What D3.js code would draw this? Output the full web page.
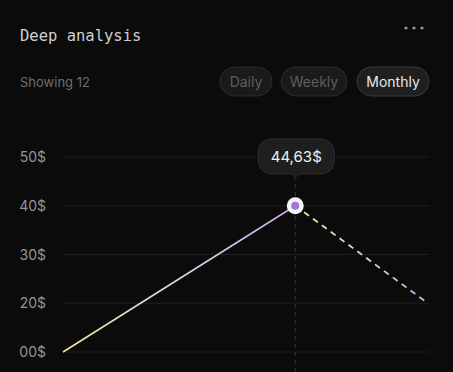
<!DOCTYPE html>
<html>
<head>
<meta charset="utf-8">
<script src="https://cdn.jsdelivr.net/npm/d3@7"></script>
<style>
  html, body { margin: 0; padding: 0; background: #0b0b0b; }
  svg { display: block; }
</style>
</head>
<body>
<div id="chart"></div>
<script>
// 12 months on the x axis, three known points
const months = ['Jan','Feb','Mar','Apr','May','Jun','Jul','Aug','Sep','Oct','Nov','Dec']
const solidSeries = [{ m: 'Jan', v: 0 }, { m: 'Aug', v: 40 }]
const dashedSeries = [{ m: 'Aug', v: 40 }, { m: 'Dec', v: 20 }]
// the axis is evenly spaced by level, not linear
const yTicks = [0, 20, 30, 40, 50]
const yTickLabels = ['00$', '20$', '30$', '40$', '50$']
const periods = ['Daily', 'Weekly', 'Monthly']
const activePeriod = 'Monthly'
const highlight = { m: 'Aug', v: 40, label: '44,63$' }

const W = 453, H = 372
const svg = d3.select('#chart').append('svg').attr('width', W).attr('height', H)
svg.append('rect').attr('width', W).attr('height', H).attr('fill', '#0b0b0b')

// header
svg.append('text').attr('x', 20).attr('y', 41)
  .style('font-family', 'DejaVu Sans Mono, monospace').style('font-size', '15.5px')
  .attr('fill', '#cfcfcf').text('Deep analysis')

const dots = svg.append('g').attr('fill', '#9a9a9a')
;[406, 414, 422].forEach(x => dots.append('circle').attr('cx', x).attr('cy', 28).attr('r', 1.6))

svg.append('text').attr('x', 20).attr('y', 87)
  .style('font-family', 'Inter, sans-serif').style('font-size', '13px')
  .attr('fill', '#6e6e6e').text('Showing 12')

// period pills
const pillX = { Daily: [220, 52], Weekly: [281, 66], Monthly: [357, 72] }
periods.forEach(p => {
  const [x, w] = pillX[p]
  const active = p === activePeriod
  svg.append('rect').attr('x', x).attr('y', 67).attr('width', w).attr('height', 29).attr('rx', 14.5)
    .attr('fill', active ? '#1f1f1f' : '#1a1a1a').attr('stroke', active ? '#3a3a3a' : '#2c2c2c')
  svg.append('text').attr('x', x + w / 2).attr('y', 87).attr('text-anchor', 'middle')
    .style('font-family', 'Inter, sans-serif').style('font-size', '14px')
    .attr('fill', active ? '#e8e8e8' : '#5e5e5e').text(p)
})

// scales
const x = d3.scalePoint().domain(months).range([63, 428])
const y = d3.scalePoint().domain(yTicks).range([352, 157])

// grid + y labels
const grid = svg.append('g')
yTicks.forEach((t, i) => {
  grid.append('line').attr('x1', 63).attr('x2', 429).attr('y1', y(t)).attr('y2', y(t))
    .attr('stroke', '#1f1f1f').attr('stroke-width', 1)
  grid.append('text').attr('x', 46).attr('y', y(t) + 5).attr('text-anchor', 'end')
    .style('font-family', 'Inter, sans-serif').style('font-size', '14px')
    .attr('fill', '#959595').text(yTickLabels[i])
})

// gradients
const defs = svg.append('defs')
function grad(id, x1, x2) {
  const g = defs.append('linearGradient').attr('id', id).attr('gradientUnits', 'userSpaceOnUse')
    .attr('x1', x1).attr('x2', x2).attr('y1', 0).attr('y2', 0)
  g.append('stop').attr('offset', '0%').attr('stop-color', '#efe6a0')
  g.append('stop').attr('offset', '55%').attr('stop-color', '#e2cfe6')
  g.append('stop').attr('offset', '100%').attr('stop-color', '#c9a6ee')
}
grad('g-solid', x('Jan'), x('Aug'))
grad('g-dash', x('Aug'), x('Dec'))

// vertical marker
const hx = x(highlight.m), hy = y(highlight.v)
svg.append('line').attr('x1', hx).attr('x2', hx).attr('y1', 176).attr('y2', H)
  .attr('stroke', '#3a3a3a').attr('stroke-dasharray', '4,4')

const line = d3.line().x(d => x(d.m)).y(d => y(d.v))
svg.append('path').datum(solidSeries).attr('d', line)
  .attr('fill', 'none').attr('stroke', 'url(#g-solid)').attr('stroke-width', 1.6)
svg.append('path').datum(dashedSeries).attr('d', line)
  .attr('fill', 'none').attr('stroke', 'url(#g-dash)').attr('stroke-width', 1.8)
  .attr('stroke-dasharray', '6,5')

// highlighted point
svg.append('circle').attr('cx', hx).attr('cy', hy).attr('r', 8.5).attr('fill', '#f4f4f4')
svg.append('circle').attr('cx', hx).attr('cy', hy).attr('r', 4).attr('fill', '#a775e0')

// tooltip
const tip = svg.append('g')
tip.append('rect').attr('x', hx - 37).attr('y', 139).attr('width', 76).attr('height', 35).attr('rx', 13)
  .attr('fill', '#1e1e1e').attr('stroke', '#2e2e2e')
tip.append('path')
  .attr('d', `M${hx - 5},173.5 L${hx},179 L${hx + 5},173.5`).attr('fill', '#1e1e1e')
tip.append('text').attr('x', hx + 1).attr('y', 162).attr('text-anchor', 'middle')
  .style('font-family', 'Inter, sans-serif').style('font-size', '15px')
  .attr('fill', '#f0f0f0').text(highlight.label)
</script>
</body>
</html>
